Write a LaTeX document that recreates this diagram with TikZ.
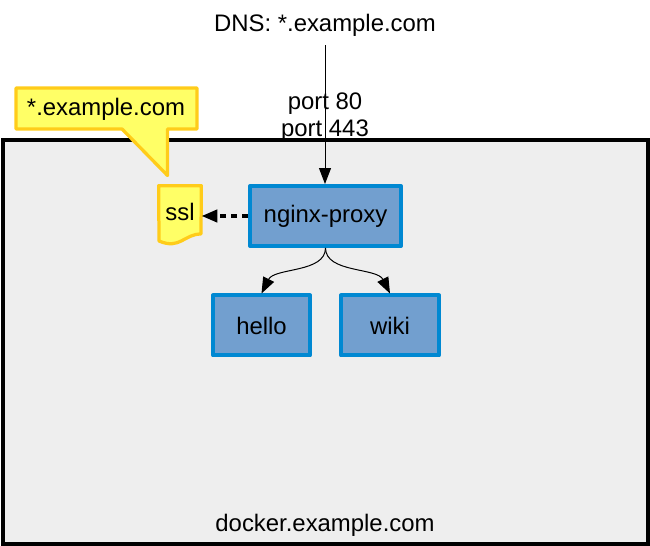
\documentclass[tikz,border=0pt]{standalone}
\usepackage{fontspec}
\setmainfont{Liberation Sans}
\usetikzlibrary{arrows.meta,positioning}
\definecolor{boxfill}{HTML}{729FCF}
\definecolor{boxline}{HTML}{0088D2}
\definecolor{notefill}{HTML}{FFFF66}
\definecolor{noteline}{HTML}{FFCC1A}
\definecolor{hostfill}{HTML}{EEEEEE}

\begin{document}
\begin{tikzpicture}[
      x=0.02cm, y=-0.02cm,
      >={Triangle[length=0.32cm,width=0.24cm]},
      every node/.style={font=\fontsize{13.6}{15.4}\selectfont},
      host/.style={draw=black, line width=0.08cm, fill=hostfill, minimum width=12.91cm,
        minimum height=8.086cm},
      service/.style={draw=boxline, line width=0.08cm, fill=boxfill, line join=round,
        minimum height=1.2cm},
      plain/.style={inner sep=0pt},
      note/.style={draw=noteline, line width=0.065cm, fill=notefill, line join=round},
      link/.style={->, line width=0.02cm, draw=black}
    ]
    \useasboundingbox (0,0) rectangle (650,546);

    % Docker host
    \node[host] (docker) at (325.75,342.15) {};
    \node[plain] (dockerlabel) at (325,525) {docker.example.com};

    % Certificate note and callout
    \draw[note] (16,88) -- (197,88) -- (197,129) -- (167.5,129) -- (167.5,175.5) -- (122,129)
      -- (16,129) -- cycle;
    \node[plain] (wildcard) at (106,109.5) {*.example.com};
    \node[plain, minimum width=0.84cm, minimum height=1.2cm] (ssl) at (180,216) {};
    \draw[note] (ssl.north west) -- (ssl.north east) -- (201,234)
      .. controls (184,234) and (180,250) .. (159,241) -- cycle;
    \node[plain] (ssltext) at (180,211.5) {ssl};

    % Services
    \node[service, minimum width=3.02cm] (proxy) at (325.5,216) {nginx-proxy};
    \node[service, minimum width=1.94cm] (hello) at (261.5,325.5) {hello};
    \node[service, minimum width=1.96cm] (wiki) at (390,325.5) {wiki};

    % DNS entry
    \node[plain, minimum height=0.8cm] (dns) at (325,25) {DNS: *.example.com};
    \node[plain, align=center] (ports) at (325,117.5) {port 80\\port 443};
    \draw[link] (dns.south) -- (dns.south |- proxy.north);

    \draw[->, line width=0.08cm, dash pattern=on 0.13cm off 0.09cm] (proxy.west) -- (ssl.east);
    \draw[link] (proxy.south) .. controls +(0,25) and +(13,-26) .. (hello.north);
    \draw[link] (proxy.south) .. controls +(0,25) and +(-13,-26) .. (wiki.north);
  \end{tikzpicture}
\end{document}
